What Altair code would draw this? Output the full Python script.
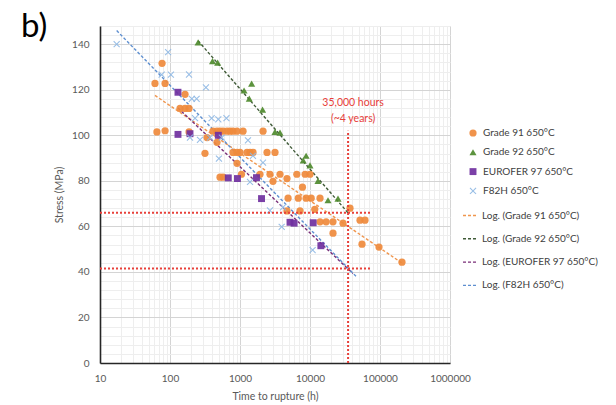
import altair as alt
import pandas as pd

# ---------------- data ----------------
series_names = ["Grade 91 650°C", "Grade 92 650°C", "EUROFER 97 650°C", "F82H 650°C"]
fit_names = ["Log. (Grade 91 650°C)", "Log. (Grade 92 650°C)",
             "Log. (EUROFER 97 650°C)", "Log. (F82H 650°C)"]

g91_h = [77, 61, 85, 65, 85, 164, 139, 164, 187, 187, 316, 338, 411, 469, 518, 572, 652,
         720, 794, 906, 1105, 2133, 469, 794, 906, 1000, 1259, 1389, 1534, 2432, 3162,
         906, 518, 572, 1050, 1931, 2683, 3728, 6480, 8520, 10000, 2960, 4690, 7800,
         4860, 6800, 8800, 10400, 13900, 4690, 7197, 11700, 37280, 13900, 17000, 21300,
         29600, 51800, 61050, 21320, 55300, 96800, 206000]
g91_s = [131.6, 122.8, 122.8, 101.5, 102.0, 118.0, 111.8, 111.8, 111.8, 101.5, 92.1, 99.0,
         101.8, 101.8, 101.8, 101.8, 101.8, 101.8, 101.8, 101.8, 101.8, 101.8, 96.9, 92.5,
         92.5, 92.5, 92.5, 92.5, 92.5, 92.5, 92.5, 87.7, 81.6, 81.6, 82.9, 82.9, 82.9, 82.9,
         82.9, 82.9, 82.9, 79.8, 81.0, 77.2, 72.4, 72.4, 72.4, 72.4, 72.4, 66.8, 66.8, 67.5,
         68.0, 62.0, 62.0, 62.0, 61.4, 62.7, 62.7, 57.0, 52.2, 50.9, 44.3]

g92_h = [252, 405, 480, 1466, 1143, 1357, 2100, 3162, 3728, 8800, 8000, 10000, 13000,
         18080, 25120]
g92_s = [140.8, 132.6, 131.9, 122.7, 119.7, 116.1, 111.3, 101.5, 101.2, 91.0, 89.0, 86.8,
         80.0, 71.5, 72.2]

eu_h = [130, 130, 193, 490, 680, 920, 1720, 2030, 5180, 5930, 11100, 14300]
eu_s = [118.9, 100.4, 100.7, 100.0, 81.3, 81.0, 81.4, 72.2, 61.8, 61.4, 61.6, 51.5]

f82_h = [17.3, 94, 76, 103, 187, 326, 205, 240, 228, 393, 490, 640, 268, 373, 550, 500,
         1300, 193, 1530, 1390, 2130, 2680, 4110, 3940, 10900]
f82_s = [140.0, 136.5, 126.6, 126.6, 126.7, 121.0, 116.0, 116.0, 107.5, 107.5, 107.0,
         107.5, 98.0, 99.0, 99.0, 89.8, 97.8, 99.0, 91.0, 79.5, 88.0, 67.0, 68.4, 59.8, 49.6]

# trend-line end points (hours, MPa)
fit_h0 = [61, 252, 130, 17.3]
fit_s0 = [117.5, 141.5, 112.0, 146.0]
fit_h1 = [206000, 36000, 41000, 46000]
fit_s1 = [43.9, 65.5, 39.3, 37.9]

# 35,000 h guide lines
guide_h = [35000]
guide_top = [102]
limit_s = [66, 41.5]
limit_h0 = [10]
limit_h1 = [72000]
note_text = ["35,000 hours", "(~4 years)"]
note_s = [114, 107.2]
panel_label = ["b)"]

x_ticks = [m * 10 ** e for e in range(1, 6) for m in range(1, 10)] + [1000000]
y_ticks = list(range(0, 149, 4))

# ---------------- tables ----------------
rows = []
for name, hs, ss in zip(series_names, [g91_h, g92_h, eu_h, f82_h], [g91_s, g92_s, eu_s, f82_s]):
    for h, s in zip(hs, ss):
        rows.append({"h": h, "s": s, "series": name})
pts = pd.DataFrame(rows)

frows = []
for i, n in enumerate(fit_names):
    frows.append({"h": fit_h0[i], "s": fit_s0[i], "fit": n, "o": 0})
    frows.append({"h": fit_h1[i], "s": fit_s1[i], "fit": n, "o": 1})
fits = pd.DataFrame(frows)

hl = pd.DataFrame({"h": limit_h0 * len(limit_s), "h2": limit_h1 * len(limit_s), "s": limit_s})
vl = pd.DataFrame({"h": guide_h, "s": [0], "s2": guide_top})
notes = pd.DataFrame({"h": guide_h * 2, "s": note_s, "t": note_text})
lab = pd.DataFrame({"t": panel_label})

# ---------------- styling ----------------
FONT = "Lato"
MAJ = "#d4d4d4"
MIN = "#eeeeee"
RED = "#e8403a"

x_scale = alt.Scale(type="log", domain=[10, 1000000], nice=False)
y_scale = alt.Scale(domain=[0, 148], nice=False, zero=True)

x_axis = alt.Axis(
    values=x_ticks, format="d",
    labelExpr="indexof(['10','100','1000','10000','100000','1000000'], datum.label) >= 0 ? datum.label : ''",
    grid=True,
    gridColor={"condition": {"test": "indexof([10,100,1000,10000,100000,1000000], datum.value) >= 0", "value": MAJ}, "value": MIN},
    ticks=False, domainColor="#262626", domainWidth=1.6,
    labelFont=FONT, labelFontSize=10, labelColor="#595959", labelPadding=10,
    labelFlush=False, labelOverlap=False,
    title="Time to rupture (h)", titleFont=FONT, titleFontSize=10.5,
    titleFontWeight="normal", titleColor="#595959", titlePadding=8,
)
y_axis = alt.Axis(
    values=y_ticks,
    labelExpr="datum.value % 20 == 0 ? datum.label : ''",
    grid=True,
    gridColor={"condition": {"test": "datum.value % 20 == 0", "value": MAJ}, "value": MIN},
    ticks=False, domainColor="#262626", domainWidth=1.6,
    labelFont=FONT, labelFontSize=10, labelColor="#595959", labelPadding=11,
    labelOverlap=False,
    title="Stress (MPa)", titleFont=FONT, titleFontSize=10.5,
    titleFontWeight="normal", titleColor="#595959", titlePadding=7,
)

X = alt.X("h:Q", scale=x_scale, axis=x_axis)
Y = alt.Y("s:Q", scale=y_scale, axis=y_axis)

X_PATH = "M-1,-0.78L-0.78,-1L0,-0.22L0.78,-1L1,-0.78L0.22,0L1,0.78L0.78,1L0,0.22L-0.78,1L-1,0.78L-0.22,0Z"

pt_colors = ["#ef8a3c", "#4e8a2e", "#7030a0", "#8fb9e4"]
pt_shapes = ["circle", "triangle-up", "square", X_PATH]
pt_sizes = [52, 46, 46, 32]
fit_colors = ["#f0964e", "#3f5a37", "#7a2e78", "#5e8fd0"]

points = alt.Chart(pts).mark_point(filled=True, opacity=0.92).encode(
    x=X, y=Y,
    color=alt.Color("series:N", scale=alt.Scale(domain=series_names, range=pt_colors),
                    legend=alt.Legend(title=None, orient="none", legendX=368, legendY=102,
                                      labelFont=FONT, labelFontSize=10, labelColor="#404040",
                                      symbolSize=36, rowPadding=9.3, labelOffset=5,
                                      padding=0, symbolStrokeWidth=0)),
    shape=alt.Shape("series:N", scale=alt.Scale(domain=series_names, range=pt_shapes)),
    size=alt.Size("series:N", scale=alt.Scale(domain=series_names, range=pt_sizes), legend=None),
)

lines = alt.Chart(fits).mark_line(strokeDash=[3, 2], strokeWidth=1.4).encode(
    x=X, y=Y, order="o:Q",
    stroke=alt.Stroke("fit:N", scale=alt.Scale(domain=fit_names, range=fit_colors),
                      legend=alt.Legend(title=None, orient="none", legendX=362, legendY=181,
                                        labelFont=FONT, labelFontSize=10, labelColor="#404040",
                                        symbolType="stroke", symbolSize=225, symbolDash=[3, 2],
                                        symbolStrokeWidth=1.4, rowPadding=9.3, labelOffset=3,
                                        padding=0)),
)

hrules = alt.Chart(hl).mark_rule(color=RED, strokeDash=[2, 2], strokeWidth=2).encode(
    x=X, x2="h2:Q", y=Y)
vrule = alt.Chart(vl).mark_rule(color=RED, strokeDash=[2, 2], strokeWidth=2).encode(
    x=X, y=Y, y2="s2:Q")
texts = alt.Chart(notes).mark_text(color=RED, font=FONT, fontSize=10.5, align="center",
                                   dx=5).encode(x=X, y=Y, text="t:N")
panel = alt.Chart(lab).mark_text(font=FONT, fontSize=33, color="#000000", align="left",
                                 baseline="alphabetic").encode(
    x=alt.value(-79), y=alt.value(11), text="t:N")

chart = alt.layer(lines, points, hrules, vrule, texts, panel).properties(
    width=350, height=337,
    padding={"left": 100, "top": 26, "right": 166, "bottom": 42},
    autosize=alt.AutoSizeParams(type="none"),
).configure_view(stroke=None).configure(background="white")

chart.save("out.html", embed_options={"renderer": "svg", "actions": False})
